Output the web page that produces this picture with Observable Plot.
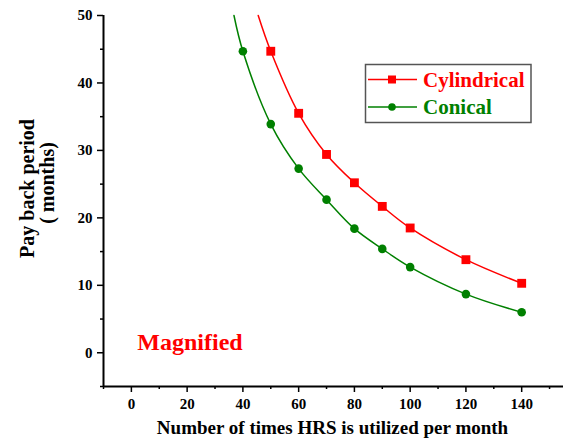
<!DOCTYPE html>
<html><head><meta charset="utf-8">
<script src="https://cdn.jsdelivr.net/npm/d3@7"></script>
<script src="https://cdn.jsdelivr.net/npm/@observablehq/plot@0.6"></script>
<style>body{margin:0;background:#fff}</style>
</head><body><div id="chart"></div>
<script>
// Data
const cylX = [50, 60, 70, 80, 90, 100, 120, 140];
const cylY = [44.7, 35.5, 29.4, 25.2, 21.7, 18.5, 13.8, 10.3];
const conX = [40, 50, 60, 70, 80, 90, 100, 120, 140];
const conY = [44.7, 33.9, 27.3, 22.7, 18.4, 15.4, 12.7, 8.7, 6.0];
// where each fitted curve leaves the top of the plot
const cylCurveTopX = 45.5;
const conCurveTopX = 36.8;
const curveTopY = 50;

const xMajor = [0, 20, 40, 60, 80, 100, 120, 140];
const xMinor = [-10, 10, 30, 50, 70, 90, 110, 130, 150];
const yMajor = [0, 10, 20, 30, 40, 50];
const yMinor = [-5, 5, 15, 25, 35, 45];

const seriesNames = ["Cylindrical", "Conical"];
const seriesColors = ["#ff0000", "#008000"];

const cyl = cylX.map((x, i) => ({x, y: cylY[i]}));
const con = conX.map((x, i) => ({x, y: conY[i]}));
const cylLine = [{x: cylCurveTopX, y: curveTopY}, ...cyl];
const conLine = [{x: conCurveTopX, y: curveTopY}, ...con];

const font = '"Liberation Serif", "Times New Roman", serif';

const chart = Plot.plot({
  width: 564, height: 447,
  marginLeft: 103, marginRight: 1, marginTop: 15, marginBottom: 61,
  style: {fontFamily: font, fontWeight: "bold", background: "#fff", color: "#000", overflow: "visible"},
  x: {domain: [-10, 155]},
  y: {domain: [-5, 50]},
  marks: [
    Plot.axisY(yMajor, {tickSize: 6, tickPadding: 5, fontSize: 15, strokeWidth: 1.5, label: null}),
    Plot.axisY(yMinor, {tickSize: 3, tickFormat: () => "", strokeWidth: 1.5, label: null}),
    Plot.axisX(xMajor, {tickSize: 6, tickPadding: 6, fontSize: 15, strokeWidth: 1.5, label: null}),
    Plot.axisX(xMinor, {tickSize: 3, tickFormat: () => "", strokeWidth: 1.5, label: null}),
    Plot.ruleX([-10], {y1: -5, y2: 50, strokeWidth: 2, stroke: "#000"}),
    Plot.ruleY([-5], {x1: -10, x2: 155, strokeWidth: 2, stroke: "#000"}),
    Plot.line(cylLine, {x: "x", y: "y", stroke: seriesColors[0], strokeWidth: 1.5, curve: "catmull-rom"}),
    Plot.line(conLine, {x: "x", y: "y", stroke: seriesColors[1], strokeWidth: 1.5, curve: "catmull-rom"}),
    Plot.dot(cyl, {x: "x", y: "y", symbol: "square", r: 5, fill: seriesColors[0], stroke: "none"}),
    Plot.dot(con, {x: "x", y: "y", symbol: "circle", r: 4.3, fill: seriesColors[1], stroke: "none"}),
    Plot.text(["Pay back period"], {frameAnchor: "left", textAnchor: "middle", lineAnchor: "middle", rotate: -90, dx: -76, dy: -12.5, fontSize: 20, fontWeight: "bold", fill: "#000"}),
    Plot.text(["( months)"], {frameAnchor: "left", textAnchor: "middle", lineAnchor: "middle", rotate: -90, dx: -56, dy: -18, fontSize: 20, fontWeight: "bold", fill: "#000"}),
    Plot.text(["Number of times HRS is utilized per month"], {frameAnchor: "bottom", dy: 47, dx: -1, fontSize: 19, fontWeight: "bold", fill: "#000"}),
    Plot.text(["Magnified"], {frameAnchor: "bottom-left", textAnchor: "middle", lineAnchor: "middle", dx: 86.5, dy: -44, fontSize: 24, fontWeight: "bold", fill: seriesColors[0]})
  ]
});
document.getElementById("chart").appendChild(chart);

// Legend box in the upper right
const svg = d3.select(chart);
const lg = svg.append("g").style("font-family", font).style("font-weight", "bold").attr("text-anchor", "start");
lg.append("rect").attr("x", 365.5).attr("y", 64.5).attr("width", 165.5).attr("height", 58)
  .attr("fill", "#fff").attr("stroke", "#555").attr("stroke-width", 1.5);
const rowsY = [79.5, 107];
seriesNames.forEach((name, i) => {
  const y = rowsY[i];
  lg.append("line").attr("x1", 368).attr("x2", 417).attr("y1", y).attr("y2", y)
    .attr("stroke", seriesColors[i]).attr("stroke-width", 1.5);
  if (i === 0) {
    lg.append("rect").attr("x", 388).attr("y", y - 4).attr("width", 8).attr("height", 8).attr("fill", seriesColors[i]);
  } else {
    lg.append("circle").attr("cx", 392).attr("cy", y).attr("r", 3.8).attr("fill", seriesColors[i]);
  }
  lg.append("text").attr("x", 423).attr("y", y).attr("dy", "0.35em").attr("text-anchor", "start")
    .attr("font-size", 21).attr("fill", seriesColors[i]).text(name);
});
</script>
</body></html>
